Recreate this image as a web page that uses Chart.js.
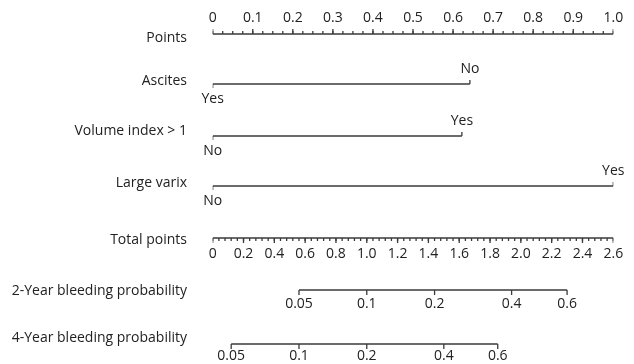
<!DOCTYPE html>
<html>
<head>
<meta charset="utf-8">
<script src="https://cdn.jsdelivr.net/npm/chart.js@4.4.1/dist/chart.umd.min.js"></script>
<style>
    body { margin: 0; background: #fff; }
    canvas { display: block; }
</style>
</head>
<body>
<canvas id="chart" width="634" height="364"></canvas>
<script>
// nomogram values
const pointTicks = [0, 0.1, 0.2, 0.3, 0.4, 0.5, 0.6, 0.7, 0.8, 0.9, 1.0];
const pointTickLabels = ['0', '0.1', '0.2', '0.3', '0.4', '0.5', '0.6', '0.7', '0.8', '0.9', '1.0'];
const totalTicks = [0, 0.2, 0.4, 0.6, 0.8, 1.0, 1.2, 1.4, 1.6, 1.8, 2.0, 2.2, 2.4, 2.6];
const totalTickLabels = ['0', '0.2', '0.4', '0.6', '0.8', '1.0', '1.2', '1.4', '1.6', '1.8', '2.0', '2.2', '2.4', '2.6'];
const predictors = ['Ascites', 'Volume index > 1', 'Large varix'];
const levelLabels = [['Yes', 'No'], ['No', 'Yes'], ['No', 'Yes']];
const levelPoints = [[0, 0.642], [0, 0.622], [0, 1.0]];
const probLabels = ['0.05', '0.1', '0.2', '0.4', '0.6'];
const prob2yTotal = [0.56, 1.00, 1.44, 1.94, 2.30];
const prob4yTotal = [0.12, 0.56, 1.00, 1.50, 1.85];

const pointMinorStep = 0.025;
const totalMinorStep = 0.04;

// rows (y in pixels, y scale runs 0..364 top to bottom)
const rows = {
    points: 34, predictors: [84, 136, 186], total: 238, prob2: 290, prob4: 344
};
const titleY = [38, 81, 131, 183, 240, 291, 338];

const lineColor = '#3a3a3a';
const textColor = '#222';
const font = '14px "Open Sans"';

function segs(xs, y0, y1) {
    const out = [];
    xs.forEach(v => {
        out.push({x: v, y: y0}, {x: v, y: y1}, {x: v, y: null});
    });
    return out;
}
function steps(max, step) {
    const out = [];
    for (let i = 0; i * step <= max + 1e-9; i++) out.push(+(i * step).toFixed(4));
    return out;
}
function lineSet(data, axis) {
    return {
        data: data, xAxisID: axis || 'x', borderColor: lineColor, borderWidth: 1.3,
        pointRadius: 0, fill: false, spanGaps: false, tension: 0
    };
}

const datasets = [];
// Points axis, ticks upward
datasets.push(lineSet([{x: 0, y: rows.points}, {x: 1, y: rows.points}]));
datasets.push(lineSet(segs(steps(1, pointMinorStep), rows.points, rows.points - 3)));
datasets.push(lineSet(segs(pointTicks, rows.points, rows.points - 5)));
// predictors
predictors.forEach((p, i) => {
    const y = rows.predictors[i];
    const [a, b] = levelPoints[i];
    datasets.push(lineSet([{x: a, y: y}, {x: b, y: y}]));
    datasets.push(lineSet(segs([a], y, y + 4)));
    datasets.push(lineSet(segs([b], y, y - 4)));
});
// Total points axis, ticks downward
datasets.push(lineSet([{x: 0, y: rows.total}, {x: 2.6, y: rows.total}], 'xt'));
datasets.push(lineSet(segs(steps(2.6, totalMinorStep), rows.total, rows.total + 3), 'xt'));
datasets.push(lineSet(segs(totalTicks, rows.total, rows.total + 5), 'xt'));
// probability axes
[[prob2yTotal, rows.prob2], [prob4yTotal, rows.prob4]].forEach(([vals, y]) => {
    datasets.push(lineSet([{x: vals[0], y: y}, {x: vals[vals.length - 1], y: y}], 'xt'));
    datasets.push(lineSet(segs(vals, y, y + 5), 'xt'));
});

const textPlugin = {
    id: 'nomoText',
    afterDatasetsDraw(chart) {
        const ctx = chart.ctx;
        const x = chart.scales.x, xt = chart.scales.xt, y = chart.scales.y;
        ctx.save();
        ctx.font = font;
        ctx.fillStyle = textColor;
        ctx.textBaseline = 'middle';
        // titles
        ctx.textAlign = 'right';
        const titles = ['Points'].concat(predictors, ['Total points', '2-Year bleeding probability', '4-Year bleeding probability']);
        titles.forEach((t, i) => ctx.fillText(t, 187, y.getPixelForValue(titleY[i])));
        ctx.textAlign = 'center';
        pointTicks.forEach((v, i) => ctx.fillText(pointTickLabels[i], x.getPixelForValue(v), y.getPixelForValue(rows.points - 16)));
        totalTicks.forEach((v, i) => ctx.fillText(totalTickLabels[i], xt.getPixelForValue(v), y.getPixelForValue(rows.total + 16)));
        predictors.forEach((p, i) => {
            const r = rows.predictors[i];
            ctx.fillText(levelLabels[i][0], x.getPixelForValue(levelPoints[i][0]), y.getPixelForValue(r + 15));
            ctx.fillText(levelLabels[i][1], x.getPixelForValue(levelPoints[i][1]), y.getPixelForValue(r - 15));
        });
        prob2yTotal.forEach((v, i) => ctx.fillText(probLabels[i], xt.getPixelForValue(v), y.getPixelForValue(rows.prob2 + 14)));
        prob4yTotal.forEach((v, i) => ctx.fillText(probLabels[i], xt.getPixelForValue(v), y.getPixelForValue(rows.prob4 + 12)));
        ctx.restore();
    }
};

new Chart(document.getElementById('chart').getContext('2d'), {
    type: 'line',
    data: { datasets: datasets },
    options: {
        responsive: false,
        animation: false,
        devicePixelRatio: 1,
        layout: { padding: { left: 212.7, right: 20.7, top: 0, bottom: 0 } },
        plugins: { legend: { display: false }, tooltip: { enabled: false } },
        scales: {
            x: { type: 'linear', min: 0, max: 1, display: false },
            xt: { type: 'linear', min: 0, max: 2.6, display: false },
            y: { type: 'linear', min: 0, max: 364, reverse: true, display: false }
        }
    },
    plugins: [textPlugin]
});
</script>
</body>
</html>
